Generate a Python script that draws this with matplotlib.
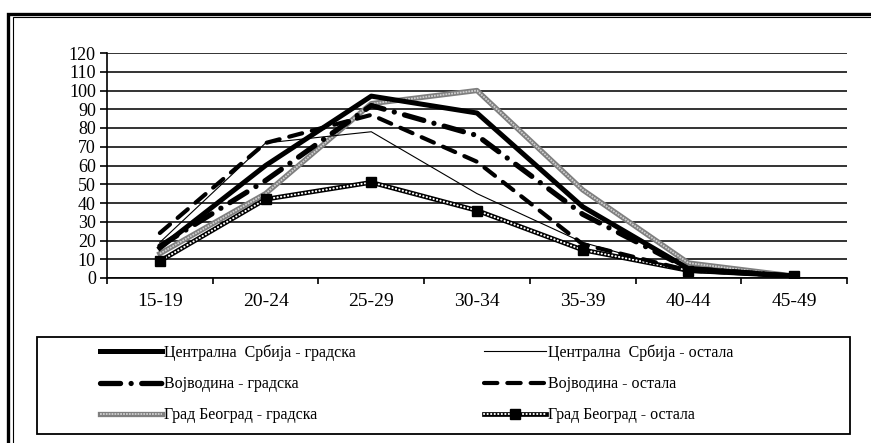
import matplotlib
matplotlib.use('Agg')
import matplotlib.pyplot as plt
from matplotlib.patches import Rectangle
from matplotlib.legend_handler import HandlerTuple

plt.rcParams['font.family'] = ['Liberation Serif', 'DejaVu Serif']

# Data
age_groups = ['15-19', '20-24', '25-29', '30-34', '35-39', '40-44', '45-49']
cs_urban = [16, 60, 97, 88, 38, 5, 1]     # Централна Србија - градска
cs_other = [19, 72, 78, 45, 19, 3, 1]     # Централна Србија - остала
voj_urban = [17, 52, 92, 76, 34, 5, 1]    # Војводина - градска
voj_other = [24, 72, 87, 62, 18, 4, 1]    # Војводина - остала
bg_urban = [13, 45, 93, 100, 47, 8, 1]    # Град Београд - градска
bg_other = [9, 42, 51, 36, 15, 4, 1]      # Град Београд - остала

labels = ['Централна  Србија - градска', 'Централна  Србија - остала',
          'Војводина - градска', 'Војводина - остала',
          'Град Београд - градска', 'Град Београд - остала']

W, H = 871, 443
fig = plt.figure(figsize=(W / 100, H / 100), dpi=100)
ax = fig.add_axes([107 / W, 1 - 278 / H, (847 - 107) / W, (278 - 53) / H])

x = list(range(len(age_groups)))

# Grad Beograd - gradska: grey double line
bg_u1, = ax.plot(x, bg_urban, color='#7f7f7f', lw=3.8, zorder=3)
bg_u2, = ax.plot(x, bg_urban, color='#cfcfcf', lw=1.3, ls=(0, (1, 0.6)), zorder=3)

# Grad Beograd - ostala: black beaded line with square markers
bg_o1, = ax.plot(x, bg_other, color='black', lw=3.4, zorder=4)
bg_o2, = ax.plot(x, bg_other, color='white', lw=1.5, ls=(0, (0.1, 1.6)),
                 dash_capstyle='round', zorder=4)
bg_o3, = ax.plot(x, bg_other, color='black', ls='none', marker='s', ms=7, zorder=4.5)

voj_o, = ax.plot(x, voj_other, color='black', lw=3.0, ls=(0, (3.2, 2.4)),
                 dash_capstyle='round', zorder=5)
voj_u, = ax.plot(x, voj_urban, color='black', lw=3.8, ls=(0, (3.8, 2.0, 0.01, 2.0)),
                 dash_capstyle='round', zorder=5)
cs_o, = ax.plot(x, cs_other, color='black', lw=0.8, zorder=5)
cs_u, = ax.plot(x, cs_urban, color='black', lw=3.6, zorder=5)

ax.set_xlim(-0.5, len(age_groups) - 0.5)
ax.set_ylim(0, 120)
ax.set_yticks(range(0, 121, 10))
ax.set_xticks(x)
ax.set_xticklabels(age_groups)
ax.set_xticks([i - 0.5 for i in range(len(age_groups) + 1)], minor=True)

ax.yaxis.grid(True, color='#333333', lw=1.4)
ax.set_axisbelow(True)
ax.tick_params(axis='y', direction='out', length=5, width=1.2, pad=3, labelsize=13)
ax.tick_params(axis='x', which='major', length=0, pad=11, labelsize=14)
ax.tick_params(axis='x', which='minor', direction='out', length=4, width=1.2)
for s in ['top', 'right']:
    ax.spines[s].set_visible(False)
for s in ['left', 'bottom']:
    ax.spines[s].set_linewidth(1.2)
    ax.spines[s].set_color('black')

# Legend: two columns placed separately
leg_kw = dict(frameon=False, fontsize=11.5, handlelength=3.9, handletextpad=0.1,
              labelspacing=0.95, borderpad=0, borderaxespad=0,
              handler_map={tuple: HandlerTuple(ndivide=1, pad=0)})
y_leg = 1 - 384 / H
fig.legend([cs_u, voj_u, (bg_u1, bg_u2)], [labels[0], labels[2], labels[4]],
           loc='center left', bbox_to_anchor=(100 / W, y_leg), **leg_kw)
fig.legend([cs_o, voj_o, (bg_o1, bg_o2, bg_o3)], [labels[1], labels[3], labels[5]],
           loc='center left', bbox_to_anchor=(484 / W, y_leg), **leg_kw)

# Legend box
fig.patches.append(Rectangle((37 / W, 1 - 434 / H), (850 - 37) / W, (434 - 337) / H,
                             transform=fig.transFigure, fill=False,
                             edgecolor='black', lw=1.3))

# Outer double frame
fig.patches.append(Rectangle((8 / W, -0.1), 1.2, 1.1 - 14 / H,
                             transform=fig.transFigure, fill=False,
                             edgecolor='black', lw=2.4, clip_on=False))
fig.patches.append(Rectangle((12.5 / W, -0.1), 1.2, 1.1 - 17.5 / H,
                             transform=fig.transFigure, fill=False,
                             edgecolor='black', lw=0.8, clip_on=False))

fig.savefig('out.png', dpi=100)
